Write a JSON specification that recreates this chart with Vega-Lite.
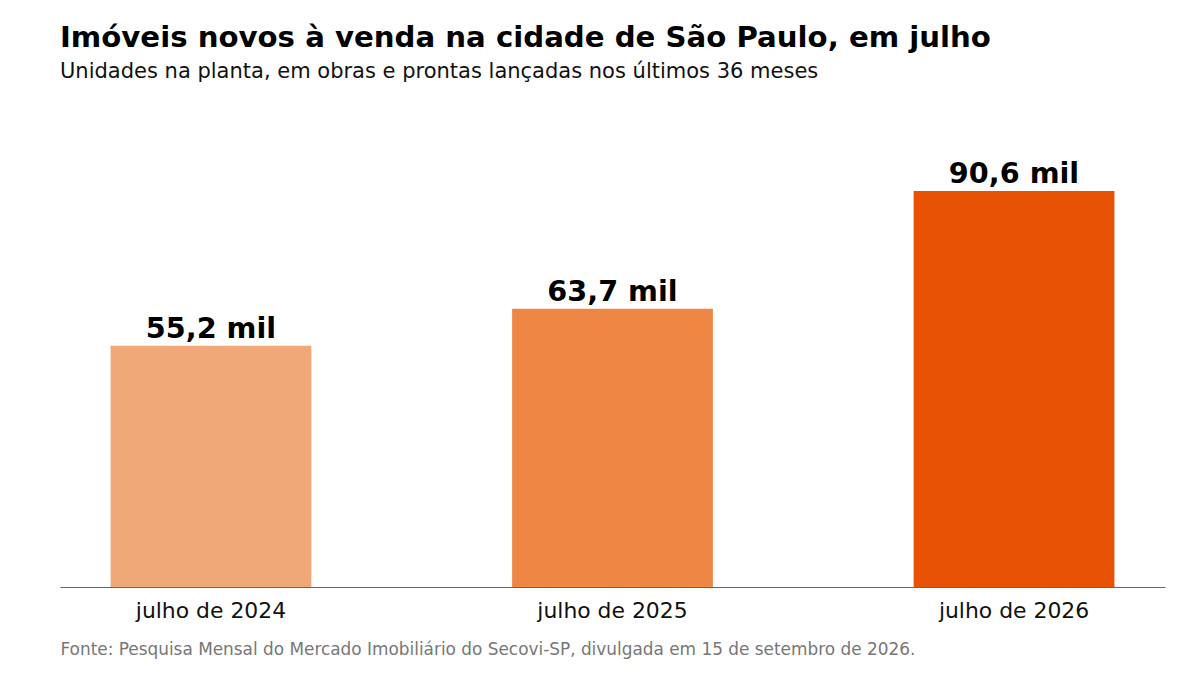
{
  "$schema": "https://vega.github.io/schema/vega-lite/v6.json",
  "autosize": {"type": "none"},
  "width": 1105,
  "height": 437,
  "padding": {"left": 60, "top": 150, "right": 35, "bottom": 88},
  "background": "white",
  "config": {"font": "DejaVu Sans", "view": {"stroke": null}},
  "title": {
    "text": "Imóveis novos à venda na cidade de São Paulo, em julho",
    "subtitle": "Unidades na planta, em obras e prontas lançadas nos últimos 36 meses",
    "anchor": "start",
    "frame": "group",
    "offset": 68,
    "fontSize": 29.2,
    "fontWeight": "bold",
    "color": "#000000",
    "subtitleFontSize": 21,
    "subtitleColor": "#111111",
    "subtitlePadding": 8
  },
  "data": {
    "values": [
      {"periodo": "julho de 2024", "valor": 55.2, "rotulo": "55,2 mil"},
      {"periodo": "julho de 2025", "valor": 63.7, "rotulo": "63,7 mil"},
      {"periodo": "julho de 2026", "valor": 90.6, "rotulo": "90,6 mil"}
    ]
  },
  "encoding": {
    "x": {
      "field": "periodo",
      "type": "nominal",
      "sort": null,
      "scale": {"paddingInner": 0.5, "paddingOuter": 0.126},
      "axis": {
        "title": "Fonte: Pesquisa Mensal do Mercado Imobiliário do Secovi-SP, divulgada em 15 de setembro de 2026.",
        "titleAnchor": "start",
        "titleAlign": "left",
        "titleX": 0,
        "titleY": 62,
        "titleBaseline": "middle",
        "titleFontSize": 16.9,
        "titleFontWeight": "normal",
        "titleColor": "#777777",
        "labelAngle": 0,
        "labelFontSize": 21.9,
        "labelColor": "#111111",
        "labelPadding": 13,
        "ticks": false,
        "domainColor": "#666666",
        "domainWidth": 1
      }
    },
    "y": {
      "field": "valor",
      "type": "quantitative",
      "scale": {"domain": [0, 100]},
      "axis": null
    }
  },
  "layer": [
    {
      "mark": {"type": "bar"},
      "encoding": {
        "color": {
          "field": "periodo",
          "type": "nominal",
          "sort": null,
          "scale": {"range": ["#F0A878", "#EE8744", "#E85204"]},
          "legend": null
        }
      }
    },
    {
      "mark": {"type": "text", "fontSize": 28.7, "fontWeight": "bold", "color": "#000000", "baseline": "alphabetic", "dy": -8},
      "encoding": {"text": {"field": "rotulo"}}
    }
  ]
}
